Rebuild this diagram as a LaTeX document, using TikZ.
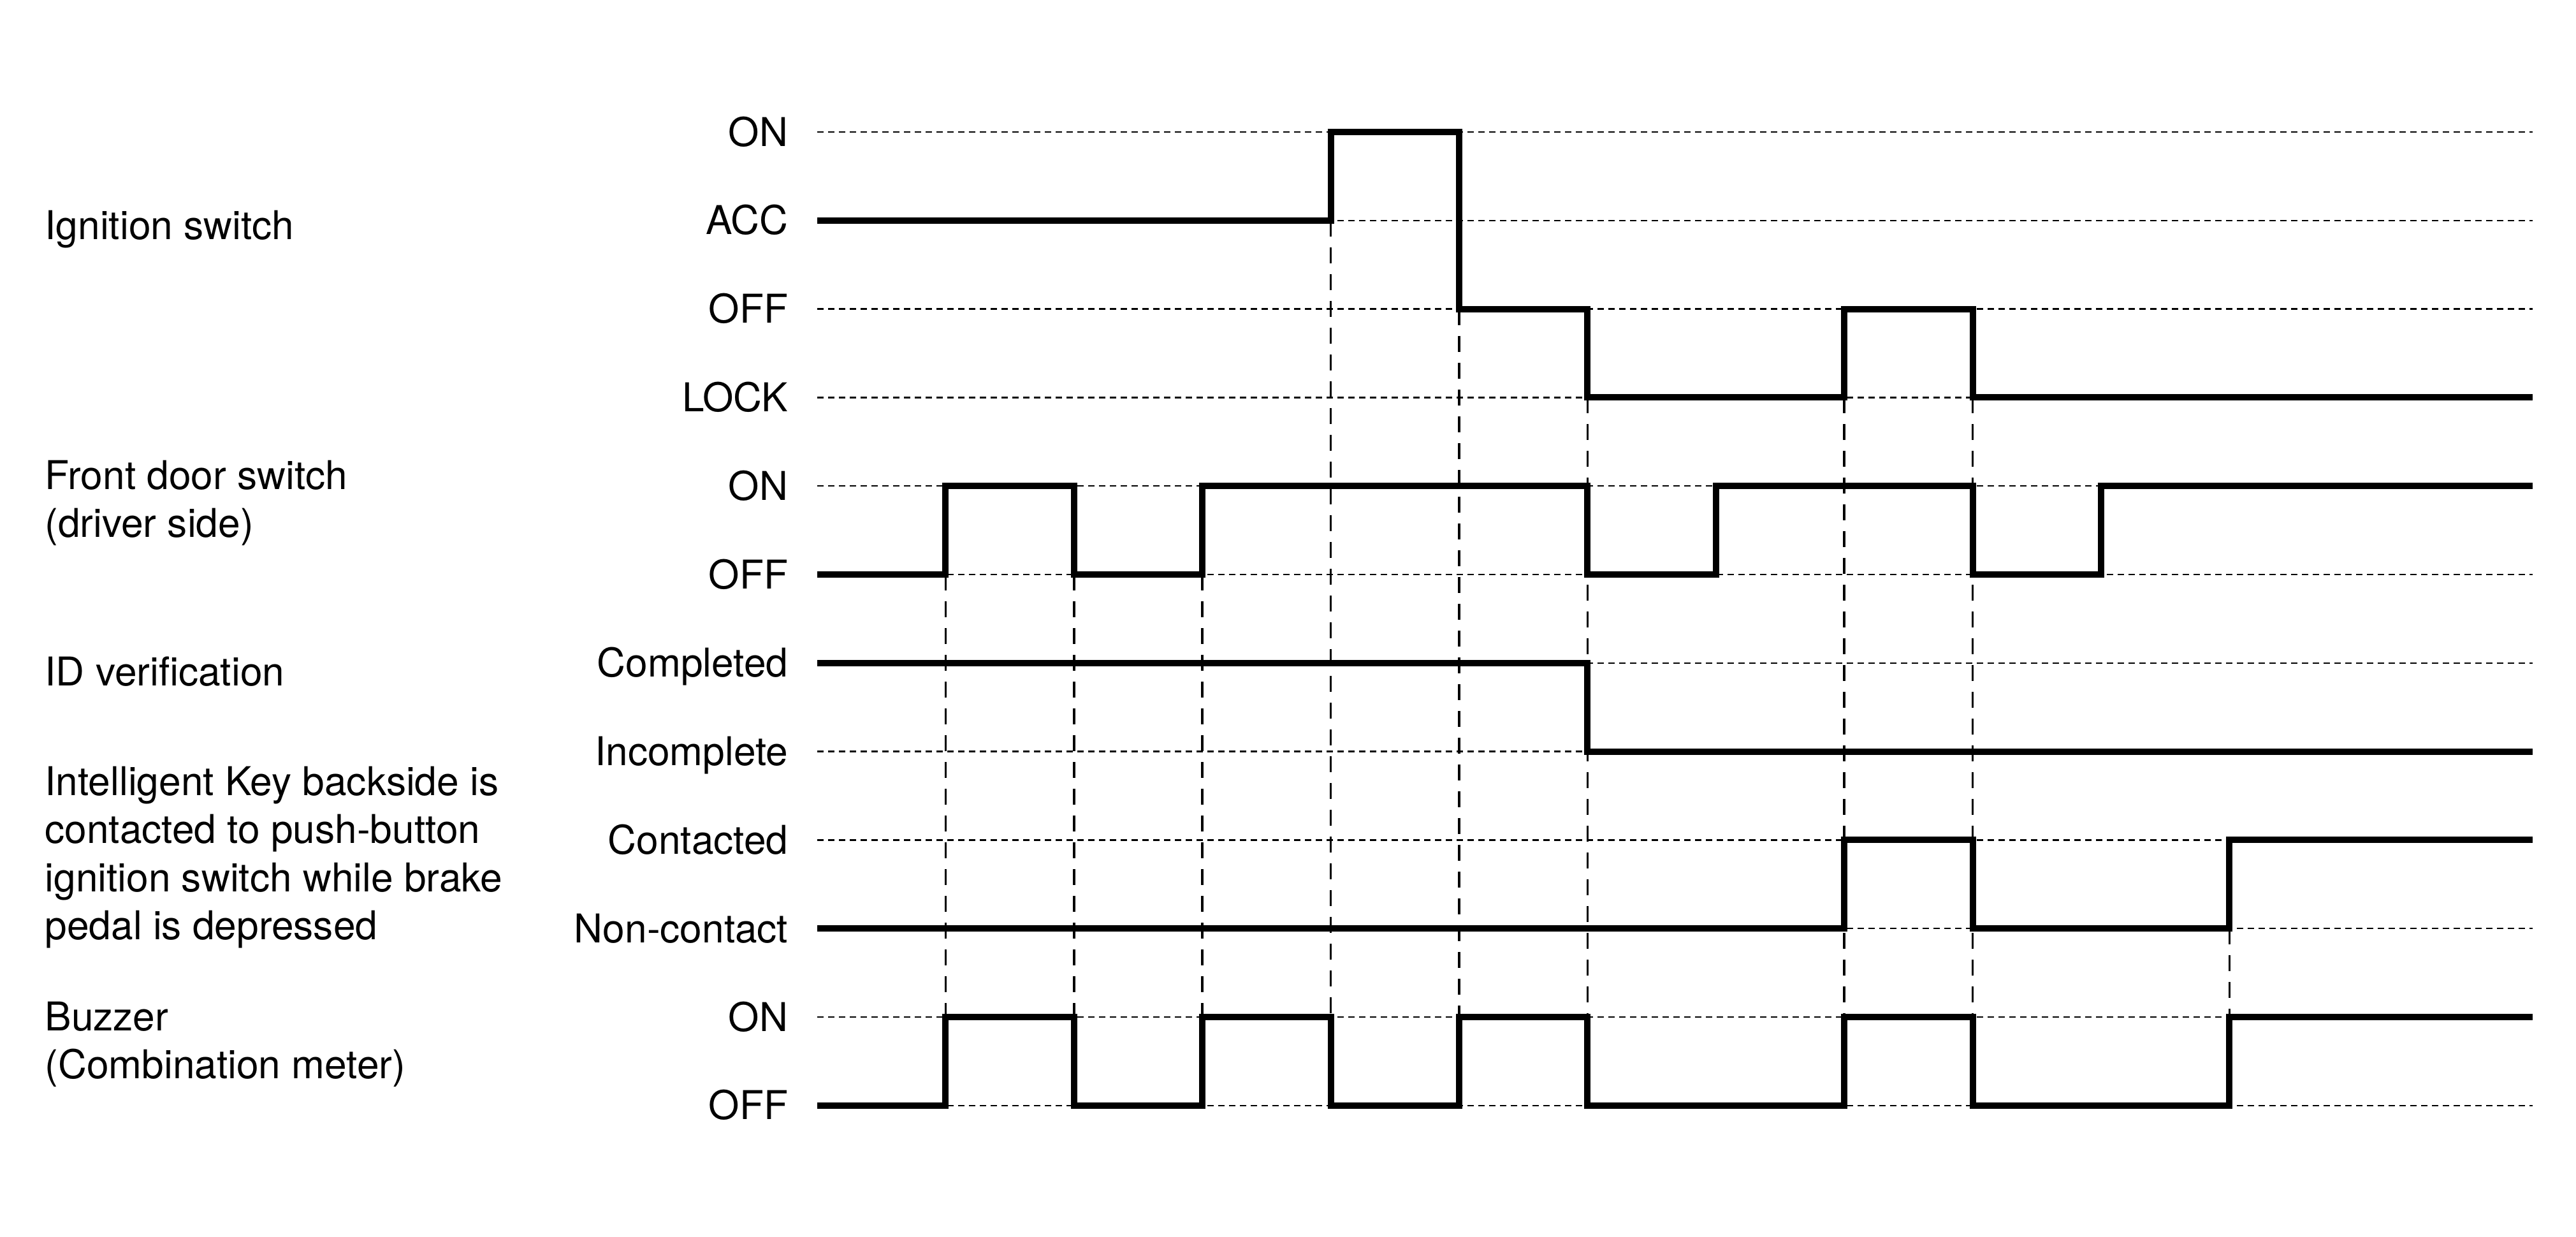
\documentclass[tikz,border=0pt]{standalone}
\usepackage{fontspec}
\setmainfont{TeX Gyre Heros}

\begin{document}
\begin{tikzpicture}[x=2.014cm, y=-1.388cm,
  font=\fontsize{17.7pt}{21.5pt}\selectfont,
  signal/.style={line width=2.85pt, line join=miter},
  levelline/.style={line width=0.65pt, dash pattern=on 0.1cm off 0.07cm},
  syncline/.style={line width=1pt, dash pattern=on 0.25cm off 0.17cm},
  lvl/.style={anchor=base east, inner sep=0pt, xshift=-0.45cm, yshift=-0.22cm},
  sigtitle/.style={anchor=base west, inner sep=0pt, align=left}]
  \useasboundingbox (-12.82cm,2.07cm) rectangle (27.59cm,-17.32cm);
  % level names and dotted level lines
  \foreach \k/\t in {0/ON,1/ACC,2/OFF,3/LOCK,4/ON,5/OFF,6/Completed,
      7/Incomplete,8/Contacted,9/Non-contact,10/ON,11/OFF} {
    \node[lvl] (lv\k) at (0,\k) {\t};
    \draw[levelline] (0,\k) -- (13.36,\k);
  }
  % signal names (placed by the baseline of their last line)
  \node[sigtitle] (ign) at (-12.12cm,-1.68cm) {Ignition switch};
  \node[sigtitle] (door) at (-12.12cm,-6.356cm) {Front door switch\\(driver side)};
  \node[sigtitle] (idv) at (-12.12cm,-8.68cm) {ID verification};
  \node[sigtitle] (ikey) at (-12.12cm,-12.667cm) {Intelligent Key backside is\\contacted to push-button\\ignition switch while brake\\pedal is depressed};
  \node[sigtitle] (buz) at (-12.12cm,-14.846cm) {Buzzer\\(Combination meter)};
  % dashed timing lines
  \foreach \i/\k in {1/5,2/5,3/5,4/1,5/2,6/3,8/3,9/3,11/9}
    \draw[syncline] (\i,\k) -- (\i,11);
  % waveforms
  \draw[signal] (0,1) -| (4,0) -| (5,2) -| (6,3) -| (8,2) -| (9,3) -- (13.36,3);
  \draw[signal] (0,5) -| (1,4) -| (2,5) -| (3,4) -| (6,5) -| (7,4) -| (9,5) -| (10,4) -- (13.36,4);
  \draw[signal] (0,6) -| (6,7) -- (13.36,7);
  \draw[signal] (0,9) -| (8,8) -| (9,9) -| (11,8) -- (13.36,8);
  \draw[signal] (0,11) -| (1,10) -| (2,11) -| (3,10) -| (4,11) -| (5,10) -| (6,11) -| (8,10) -| (9,11) -| (11,10) -- (13.36,10);
\end{tikzpicture}
\end{document}
